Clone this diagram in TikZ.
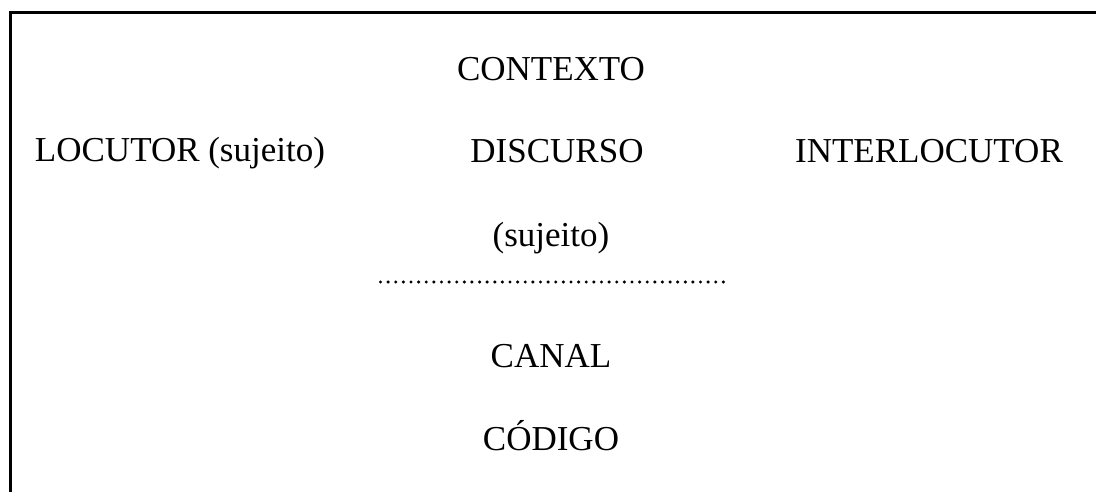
\documentclass[tikz,border=0pt]{standalone}
\usepackage{fontspec}
\setmainfont{Liberation Serif}
\usetikzlibrary{positioning}

\begin{document}
\begin{tikzpicture}[x=1pt, y=-1pt,
    lbl/.style={anchor=base, inner sep=0pt, font=\fontsize{35}{40}\selectfont},
    frame/.style={line width=3pt}]
        \useasboundingbox (0,0) rectangle (1096,492);
        % frame, open at right and bottom
        \draw[frame] (10.5,492) -- (10.5,12.5) -- (1096,12.5);
        \node[lbl] (contexto) at (551,81) {CONTEXTO};
        \node[lbl] (locutor) at (180,162) {LOCUTOR (sujeito)};
        \node[lbl] (discurso) at (557,163) {DISCURSO};
        \node[lbl] (interloc) at (929,163) {INTERLOCUTOR};
        \node[lbl] (sujeito) at (551,246) {(sujeito)};
        \node[lbl] (canal) at (551,367) {CANAL};
        \node[lbl] (codigo) at (551,450) {CÓDIGO};
        % dotted rule
        \draw[line width=3.4pt, line cap=round, dash pattern=on 0pt off 7.62pt]
              (380.5,282) -- (723.5,282);
    \end{tikzpicture}
\end{document}
